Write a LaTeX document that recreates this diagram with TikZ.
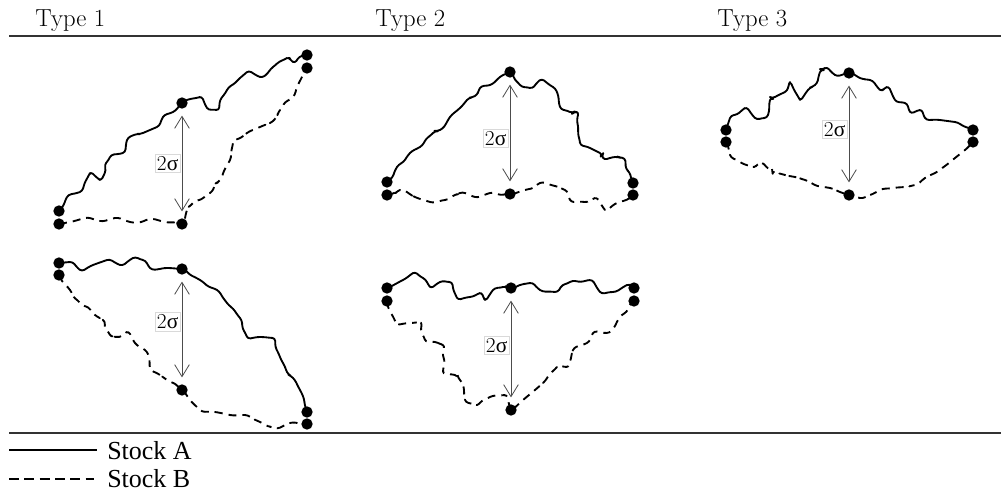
\documentclass[tikz,border=0pt]{standalone}
\usepackage{fontspec}
\newfontfamily\legendfont{Liberation Serif}
\usetikzlibrary{decorations.pathmorphing,arrows.meta}
\pgfdeclarelayer{bg}\pgfsetlayers{bg,main}
\begin{document}
\begin{tikzpicture}[x=0.75pt,y=-0.75pt,
 dot/.style={circle,fill=black,inner sep=0pt,minimum size=8.5pt},
 walk/.style={line width=1.4pt, decorate, decoration={random steps,segment length=5pt,amplitude=1.7pt}, rounded corners=2.2pt, line join=round},
 stockA/.style={walk},
 stockB/.style={walk, dash pattern=on 6pt off 4.5pt},
 sig/.style={draw=black!70, line width=0.6pt, {Straight Barb[length=9pt,width=11pt]}-{Straight Barb[length=9pt,width=11pt]}, shorten <=5pt, shorten >=5pt},
 siglab/.style={draw=black!15, fill=white, inner sep=1.5pt, font=\fontsize{16}{16}\selectfont, anchor=east, xshift=-1pt},
 title/.style={font=\fontsize{18.5}{20}\selectfont, anchor=base west, inner sep=0pt},
 legtext/.style={font=\legendfont\fontsize{19.5}{20}\selectfont, anchor=base west, inner sep=0pt},
 rulel/.style={line width=0.9pt, draw=black!80}]
\pgfmathsetseed{42}
\useasboundingbox (0,0) rectangle (1001,492);
% titles and rules
\node[title] (ty1) at (35,27) {Type 1};
\node[title] (ty2) at (375,27) {Type 2};
\node[title] (ty3) at (717,27) {Type 3};
\coordinate (r1a) at (9,36); \coordinate (r1b) at (1001,36);
\coordinate (r2a) at (9,433); \coordinate (r2b) at (1001,433);
\draw[rulel] (r1a) -- (r1b);
\draw[rulel] (r2a) -- (r2b);
% legend
\coordinate (lA1) at (9,450); \coordinate (lA2) at (97,450);
\coordinate (lB1) at (9,479); \coordinate (lB2) at (94,479);
\draw[line width=1.3pt] (lA1) -- (lA2);
\draw[line width=1.3pt, dash pattern=on 7.5pt off 4pt] (lB1) -- (lB2);
\node[legtext] (legA) at (107,459) {Stock A};
\node[legtext] (legB) at (107,487) {Stock B};

% dots
\foreach \n/\x/\y in {t1aS/59/211, t1bS/59/224, t1aM/182/103, t1bM/182/224, t1aE/307/55, t1bE/307/68,
  u1aS/59/263, u1bS/59/275, u1aM/182/269, u1bM/182/390, u1aE/307/412, u1bE/307/424,
  t2aS/387/182, t2bS/387/195, t2aM/510/72, t2bM/510/194, t2aE/633/183, t2bE/633/195,
  u2aS/387/288, u2bS/387/301, u2aM/511/288, u2bM/511/410, u2aE/634/288, u2bE/634/301,
  t3aS/726/130, t3bS/726/142, t3aM/849/73, t3bM/849/195, t3aE/973/130, t3bE/973/142}
  {\node[dot] (\n) at (\x,\y) {};}

\begin{pgfonlayer}{bg}
% Type 1 top
\draw[stockA] (t1aS.center) -- (67,197) -- (80,192) -- (90,173) -- (100,180) -- (110,157) -- (123,153) -- (127,140) -- (143,133) -- (157,127) -- (163,117) -- (173,112) -- (t1aM.center) -- (200,97) -- (207,108) -- (217,110) -- (227,90) -- (247,72) -- (260,77) -- (273,67) -- (287,58) -- (293,62) -- (t1aE.center);
\draw[stockB] (t1bS.center) -- (70,222) -- (85,218) -- (100,221) -- (115,218) -- (130,222) -- (150,219) -- (165,222) -- (t1bM.center) -- (187,210) -- (193,203) -- (210,193) -- (220,180) -- (230,160) -- (233,143) -- (247,133) -- (260,127) -- (270,123) -- (280,110) -- (293,97) -- (297,87) -- (t1bE.center);
% Type 1 bottom
\draw[stockA] (u1aS.center) -- (70,262) -- (80,270) -- (93,265) -- (107,260) -- (120,265) -- (133,258) -- (143,260) -- (150,268) -- (167,268) -- (u1aM.center) -- (200,280) -- (217,290) -- (227,303) -- (240,318) -- (247,337) -- (260,337) -- (273,338) -- (280,357) -- (287,372) -- (293,378) -- (300,390) -- (u1aE.center);
\draw[stockB] (u1bS.center) -- (70,290) -- (80,303) -- (95,315) -- (103,320) -- (110,335) -- (117,337) -- (127,332) -- (135,343) -- (145,350) -- (150,368) -- (160,375) -- (167,380) -- (u1bM.center) -- (190,400) -- (200,410) -- (215,412) -- (230,415) -- (245,415) -- (260,422) -- (275,428) -- (290,423) -- (u1bE.center);
% Type 2 top
\draw[stockA] (t2aS.center) -- (397,167) -- (410,153) -- (420,147) -- (433,133) -- (440,130) -- (450,117) -- (460,108) -- (467,100) -- (475,96) -- (480,88) -- (490,85) -- (500,77) -- (t2aM.center) -- (520,85) -- (530,88) -- (540,80) -- (553,87) -- (560,107) -- (570,112) -- (577,112) -- (580,143) -- (590,148) -- (600,153) -- (603,158) -- (615,157) -- (623,158) -- (t2aE.center);
\draw[stockB] (t2bS.center) -- (400,190) -- (415,197) -- (430,202) -- (445,200) -- (460,193) -- (475,197) -- (490,193) -- (t2bM.center) -- (525,190) -- (540,183) -- (555,186) -- (565,190) -- (570,200) -- (585,202) -- (595,198) -- (605,210) -- (615,204) -- (t2bE.center);
% Type 2 bottom
\draw[stockA] (u2aS.center) -- (403,280) -- (413,273) -- (423,278) -- (430,287) -- (440,282) -- (450,282) -- (457,298) -- (470,297) -- (480,293) -- (485,300) -- (493,290) -- (503,287) -- (u2aM.center) -- (520,285) -- (530,283) -- (540,290) -- (555,292) -- (570,282) -- (590,280) -- (600,292) -- (613,292) -- (627,285) -- (u2aE.center);
\draw[stockB] (u2bS.center) -- (396,323) -- (410,323) -- (420,322) -- (425,340) -- (435,342) -- (443,345) -- (443,372) -- (455,375) -- (460,380) -- (465,400) -- (475,405) -- (490,397) -- (505,395) -- (u2bM.center) -- (523,400) -- (535,390) -- (543,383) -- (557,367) -- (567,367) -- (573,350) -- (587,343) -- (593,333) -- (607,333) -- (620,317) -- (u2bE.center);
% Type 3
\draw[stockA] (t3aS.center) -- (730,118) -- (745,108) -- (755,118) -- (765,118) -- (770,100) -- (775,97) -- (785,92) -- (790,82) -- (800,100) -- (808,90) -- (815,85) -- (820,72) -- (825,68) -- (835,75) -- (t3aM.center) -- (860,78) -- (870,80) -- (880,90) -- (887,87) -- (895,100) -- (905,103) -- (910,112) -- (920,110) -- (925,118) -- (940,120) -- (955,122) -- (t3aE.center);
\draw[stockB] (t3bS.center) -- (730,155) -- (740,162) -- (752,167) -- (760,163) -- (770,170) -- (775,172) -- (785,175) -- (795,177) -- (805,180) -- (815,185) -- (830,188) -- (840,192) -- (t3bM.center) -- (860,198) -- (870,195) -- (880,190) -- (893,188) -- (905,187) -- (915,185) -- (925,178) -- (935,173) -- (945,166) -- (955,158) -- (965,150) -- (t3bE.center);
\end{pgfonlayer}

% 2 sigma arrows
\draw[sig] (t1aM) -- node[siglab, pos=0.5] (s1) {2{\legendfont σ}} (t1bM);
\draw[sig] (u1aM) -- node[siglab, pos=0.43] (s2) {2{\legendfont σ}} (u1bM);
\draw[sig] (t2aM) -- node[siglab, pos=0.55] (s3) {2{\legendfont σ}} (t2bM);
\draw[sig] (u2aM) -- node[siglab, pos=0.47] (s4) {2{\legendfont σ}} (u2bM);
\draw[sig] (t3aM) -- node[siglab, pos=0.46] (s5) {2{\legendfont σ}} (t3bM);
\end{tikzpicture}
\end{document}
